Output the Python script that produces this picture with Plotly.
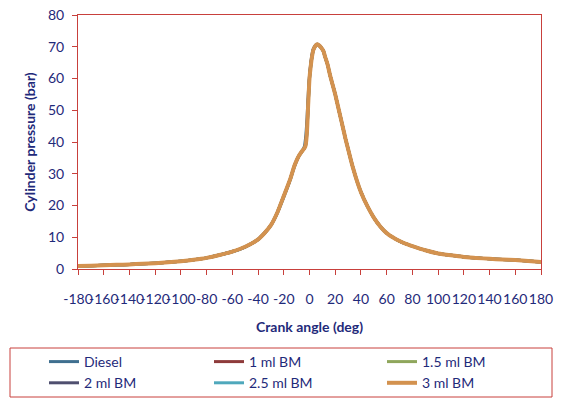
import plotly.graph_objects as go

crank_angle = [-180, -170, -160, -150, -140, -130, -120, -110, -100, -90, -80, -70, -60, -50,
               -40, -35, -30, -25, -20, -15, -12, -10, -8, -6, -4, -3, -2, -1, 0, 1, 2, 3, 5, 6, 7,
               9, 11, 12, 14, 16, 18, 20, 22, 24, 26, 28, 30, 32, 34, 37, 40, 45, 50, 55, 60, 65,
               70, 75, 80, 90, 100, 110, 120, 130, 140, 150, 160, 170, 180]

diesel = [0.95, 1.05, 1.15, 1.3, 1.45, 1.65, 1.85, 2.1, 2.45, 2.9, 3.5, 4.4, 5.4, 6.9,
          9.3, 11.3, 13.8, 17.6, 22.6, 28.0, 31.9, 34.0, 35.7, 37.0, 38.6, 41.5, 47.0, 55.0, 61.0, 65.0, 67.8, 69.4, 70.6, 70.8, 70.6,
          69.8, 68.5, 67.0, 64.5, 61.0, 58.0, 55.0, 51.5, 48.0, 44.5, 41.0, 37.8, 34.6, 31.6, 27.6, 24.2, 19.8, 16.2, 13.4, 11.3, 9.9,
          8.8, 7.9, 7.2, 5.9, 4.9, 4.3, 3.8, 3.5, 3.2, 3.0, 2.8, 2.5, 2.2]
bm_1 = [0.95, 1.05, 1.15, 1.3, 1.45, 1.65, 1.85, 2.1, 2.45, 2.9, 3.5, 4.4, 5.5, 7.0,
        9.3, 11.3, 13.8, 17.8, 23.0, 28.3, 32.2, 34.2, 35.8, 37.0, 38.0, 39.5, 44.0, 52.5, 60.5, 64.5, 67.2, 69.1, 70.5, 70.7, 70.5,
        69.7, 68.4, 66.9, 64.4, 61.0, 58.0, 55.0, 51.5, 48.0, 44.5, 41.0, 37.8, 34.6, 31.6, 27.6, 24.2, 19.8, 16.2, 13.4, 11.3, 9.9,
        8.8, 7.9, 7.2, 5.9, 4.9, 4.3, 3.8, 3.5, 3.2, 3.0, 2.8, 2.5, 2.2]
bm_1_5 = [0.95, 1.05, 1.15, 1.3, 1.45, 1.65, 1.85, 2.1, 2.45, 2.9, 3.5, 4.4, 5.5, 7.0,
          9.3, 11.3, 13.8, 17.8, 23.0, 28.3, 32.2, 34.2, 35.8, 37.0, 38.0, 39.2, 43.5, 52.0, 60.0, 64.2, 67.0, 69.0, 70.4, 70.7, 70.5,
          69.7, 68.4, 66.9, 64.4, 61.0, 58.0, 55.0, 51.5, 48.0, 44.5, 41.0, 37.8, 34.6, 31.6, 27.6, 24.2, 19.8, 16.2, 13.4, 11.3, 9.9,
          8.8, 7.9, 7.2, 5.9, 4.9, 4.3, 3.8, 3.5, 3.2, 3.0, 2.8, 2.5, 2.2]
bm_2 = [0.95, 1.05, 1.15, 1.3, 1.45, 1.65, 1.85, 2.1, 2.45, 2.9, 3.5, 4.4, 5.5, 7.0,
        9.3, 11.3, 13.8, 17.8, 23.0, 28.3, 32.2, 34.2, 35.8, 37.0, 38.0, 39.0, 43.2, 52.0, 60.0, 64.0, 67.0, 69.0, 70.5, 70.8, 70.6,
        69.8, 68.5, 67.0, 64.5, 61.0, 58.0, 55.0, 51.5, 48.0, 44.5, 41.0, 37.8, 34.6, 31.6, 27.6, 24.2, 19.8, 16.2, 13.4, 11.3, 9.9,
        8.8, 7.9, 7.2, 5.9, 4.9, 4.3, 3.8, 3.5, 3.2, 3.0, 2.8, 2.5, 2.2]
bm_2_5 = [0.95, 1.05, 1.15, 1.3, 1.45, 1.65, 1.85, 2.1, 2.45, 2.9, 3.5, 4.4, 5.5, 7.0,
          9.3, 11.3, 13.8, 17.8, 23.0, 28.3, 32.2, 34.2, 35.8, 37.0, 38.0, 39.0, 43.0, 52.0, 60.0, 64.0, 67.0, 69.0, 70.5, 70.8, 70.6,
          69.8, 68.5, 67.0, 64.5, 61.0, 58.0, 55.0, 51.5, 48.0, 44.5, 41.0, 37.8, 34.6, 31.6, 27.6, 24.2, 19.8, 16.2, 13.4, 11.3, 9.9,
          8.8, 7.9, 7.2, 5.9, 4.9, 4.3, 3.8, 3.5, 3.2, 3.0, 2.8, 2.5, 2.2]
bm_3 = [0.95, 1.05, 1.15, 1.3, 1.45, 1.65, 1.85, 2.1, 2.45, 2.9, 3.5, 4.4, 5.5, 7.0,
        9.3, 11.3, 13.8, 17.8, 23.0, 28.3, 32.2, 34.2, 35.8, 37.0, 38.0, 39.0, 43.0, 52.0, 60.0, 64.0, 67.0, 69.0, 70.5, 70.8, 70.6,
        69.8, 68.5, 67.0, 64.5, 61.0, 58.0, 55.0, 51.5, 48.0, 44.5, 41.0, 37.8, 34.6, 31.6, 27.6, 24.2, 19.8, 16.2, 13.4, 11.3, 9.9,
        8.8, 7.9, 7.2, 5.9, 4.9, 4.3, 3.8, 3.5, 3.2, 3.0, 2.8, 2.5, 2.2]

series_names = ["Diesel", "1 ml BM", "1.5 ml BM", "2 ml BM", "2.5 ml BM", "3 ml BM"]
series_values = [diesel, bm_1, bm_1_5, bm_2, bm_2_5, bm_3]
series_colors = ["#3F6F8F", "#8E3B3B", "#8FA65C", "#4F4F6F", "#4FA8BC", "#D3924F"]
# legend column for each series (reference lays the legend out row by row, 3 per row)
series_legend = ["legend", "legend2", "legend3", "legend", "legend2", "legend3"]

x_ticks = list(range(-180, 181, 20))
y_ticks = list(range(0, 81, 10))

navy = "#1F2A7A"
red = "#C8403C"
font_family = "Lato"

fig = go.Figure()
for name, vals, col, lg in zip(series_names, series_values, series_colors, series_legend):
    fig.add_trace(go.Scatter(x=crank_angle, y=vals, mode="lines", name=name, legend=lg,
                             line=dict(color=col, width=4 if name == "3 ml BM" else 3,
                                       shape="spline", smoothing=0.5)))

W, H = 561, 398
ml, mr, mt, mb = 78, 20, 15, 129
pw = W - ml - mr
ph = H - mt - mb

def px_x(p):
    return (p - ml) / pw

def px_y(p):
    return (H - mb - p) / ph

leg_font = dict(family=font_family, size=14, color=navy)
def leg(xpix):
    return dict(orientation="v", x=px_x(xpix), y=px_y(346), xanchor="left", yanchor="top",
                font=leg_font, bgcolor="rgba(0,0,0,0)", tracegroupgap=0)

fig.update_layout(
    width=W, height=H,
    margin=dict(l=ml, r=mr, t=mt, b=mb, autoexpand=False),
    paper_bgcolor="white", plot_bgcolor="white",
    font=dict(family=font_family, size=14, color=navy),
    showlegend=True,
    legend=leg(44), legend2=leg(209), legend3=leg(382),
    xaxis=dict(range=[-180, 180], tickvals=x_ticks, ticktext=[str(v) for v in x_ticks],
               tickangle=0, showgrid=False, zeroline=False, automargin=False,
               showline=True, linecolor=red, linewidth=1, mirror=True,
               ticks="outside", ticklen=5, tickcolor=red, ticklabelstandoff=12,
               tickfont=dict(family=font_family, size=14, color=navy),
               title=dict(text="<b>Crank angle (deg)</b>", standoff=16,
                          font=dict(family=font_family, size=14, color=navy))),
    yaxis=dict(range=[0, 80], tickvals=y_ticks, showgrid=False, zeroline=False, automargin=False,
               showline=True, linecolor=red, linewidth=1, mirror=True,
               ticks="outside", ticklen=5, tickcolor=red, ticklabelstandoff=5,
               tickfont=dict(family=font_family, size=14, color=navy),
               title=dict(text="<b>Cylinder pressure (bar)</b>", standoff=9,
                          font=dict(family=font_family, size=14, color=navy))),
    shapes=[dict(type="rect", xref="paper", yref="paper",
                 x0=px_x(10), x1=px_x(552), y0=px_y(397), y1=px_y(348),
                 line=dict(color=red, width=1), fillcolor="rgba(0,0,0,0)")],
)

fig.write_html("out.html")
